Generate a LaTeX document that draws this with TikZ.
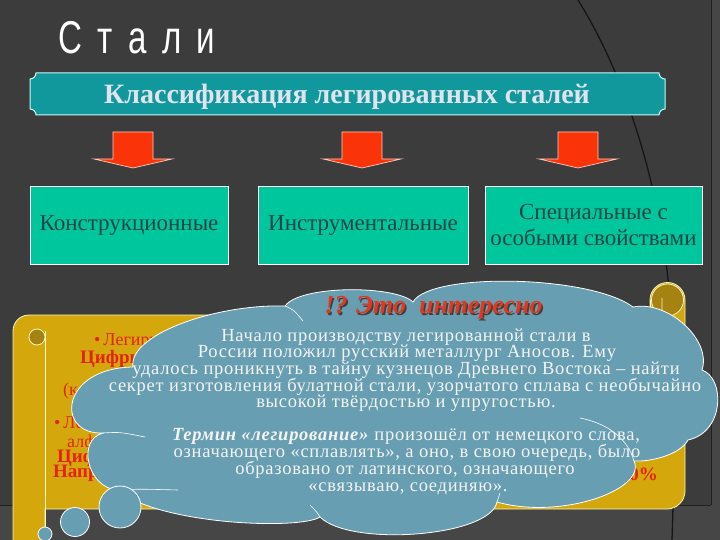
\documentclass[tikz,border=0pt]{standalone}
\usepackage{fontspec}
\usepackage{graphicx}
\setmainfont{Liberation Serif}
\newfontfamily\titlefont{Liberation Sans}
\definecolor{bgcol}{RGB}{60,60,60}
\definecolor{bgband}{RGB}{70,70,70}
\definecolor{bgdark}{RGB}{32,32,32}
\definecolor{arcline}{RGB}{22,22,22}
\definecolor{bannerfill}{RGB}{16,152,156}
\definecolor{bannerline}{RGB}{200,250,250}
\definecolor{bannertext}{RGB}{225,228,238}
\definecolor{boxfill}{RGB}{0,198,158}
\definecolor{boxtext}{RGB}{30,70,68}
\definecolor{arrowred}{RGB}{250,52,8}
\definecolor{scrollgold}{RGB}{212,168,12}
\definecolor{scrolldark}{RGB}{165,130,18}
\definecolor{scrollline}{RGB}{250,246,190}
\definecolor{scrolltext}{RGB}{228,36,12}
\definecolor{cloudfill}{RGB}{104,158,178}
\definecolor{cloudtext}{RGB}{244,244,244}
\definecolor{headred}{RGB}{226,56,30}
\tikzset{
 arrowshape/.style={fill=arrowred, draw=white!75!arrowred, line width=0.7pt, line join=miter},
 catbox/.style={draw=white, line width=0.8pt, fill=boxfill, text=boxtext, font=\fontsize{23}{26}\selectfont, align=center, minimum height=78pt, inner sep=0pt},
 cloudshape/.style={fill=cloudfill, draw=white, line width=0.8pt},
 innerarc/.style={draw=white, line width=0.6pt},
 cloudtxt/.style={text=cloudtext, font=\fontsize{18.5}{18.5}\selectfont\addfontfeatures{LetterSpace=4}, anchor=base, inner sep=0pt},
 scrolltxt/.style={text=scrolltext, anchor=base west, inner sep=0pt, font=\fontsize{18}{18}\selectfont},
 scrollbold/.style={text=scrolltext, anchor=base west, inner sep=0pt, font=\fontsize{19}{19}\selectfont\bfseries},
 scrollshape/.style={fill=scrollgold, draw=scrollline, line width=0.8pt},
 headtxt/.style={anchor=base, inner sep=0pt, font=\fontsize{26}{26}\selectfont\bfseries\itshape},
}
\begin{document}
\begin{tikzpicture}[x=1pt,y=-1pt]
\useasboundingbox (0,0) rectangle (720,540);
\begin{scope}
\clip (0,0) rectangle (720,540);
% background
\fill[bgcol] (0,0) rectangle (720,540);
\fill[bgband] (0,505) rectangle (720,540);
\draw[bgdark, line width=1pt] (0,505) -- (720,505);
\fill[bgband] (711,0) rectangle (720,540);
\draw[bgdark, line width=0.8pt] (711,0) -- (711,505);
\draw[arcline, line width=1.3pt] (578,0) .. controls (628,80) and (666,200) .. (672,330) .. controls (675,420) and (674,480) .. (672,540);
% title
\node[anchor=base west, text=white, font=\titlefont\fontsize{46}{46}\selectfont, inner sep=0pt] (title) at (58,54)
  {\scalebox{0.72}[1]{С\hspace{21.5pt}т\hspace{21.5pt}а\hspace{21.5pt}л\hspace{21.5pt}и}};
% banner
\path[fill=bannerfill, draw=bannerline, line width=1pt]
  (36,73) -- (659,73) arc[start angle=180,end angle=90,radius=6]
  -- (665,109) arc[start angle=270,end angle=180,radius=6]
  -- (36,115) arc[start angle=360,end angle=270,radius=6]
  -- (30,79) arc[start angle=90,end angle=0,radius=6] -- cycle;
\node[text=bannertext, font=\fontsize{28}{28}\selectfont\bfseries, anchor=base, inner sep=0pt] (banner) at (347,104) {Классификация легированных сталей};
% arrows
\foreach \c in {133,362,578} {
  \path[arrowshape] (\c-20,132) -- (\c+20,132) -- (\c+20,159) -- (\c+39,159) -- (\c,168) -- (\c-39,159) -- (\c-20,159) -- cycle;
}
% boxes
\node[catbox, minimum width=198pt] (b1) at (129,225) {Конструкционные};
\node[catbox, minimum width=210pt] (b2) at (363,225) {Инструментальные};
\node[catbox, minimum width=217pt] (b3) at (593.5,225) {Специальные с\\особыми свойствами};
% scroll
\path[scrollshape] (29,315) -- (650,315) -- (650,300) arc[start angle=180,end angle=360,radius=17.5]
  -- (685,491) arc[start angle=0,end angle=90,radius=18] -- (45,509) -- (45,560) -- (13,560)
  -- (13,331) arc[start angle=180,end angle=270,radius=16] -- cycle;
\draw[scrollline, line width=0.8pt] (45,331) -- (45,560);
\draw[scrollline, fill=scrolldark, line width=0.8pt] (37,337) circle[radius=8];
\draw[scrollline, fill=scrolldark, line width=0.8pt] (667.5,300) circle[radius=16];
\draw[scrollline, line width=0.8pt] (662,298) -- (662,311) arc[start angle=0,end angle=180,radius=4];
\draw[scrollline, line width=0.8pt] (650,300) -- (650,316);
% scroll text (mostly hidden by the cloud)
\node[scrolltxt] (s1) at (94,345) {•\,Легирующие};
\node[scrollbold] (s2) at (80,363) {Цифры};
\node[scrolltxt] (s3) at (63,395) {(к};
\node[scrolltxt] (s4) at (54,428) {•\,Легир};
\node[scrolltxt] (s5) at (67,447) {алфа};
\node[scrollbold] (s6) at (57,462) {Циф};
\node[scrollbold] (s7) at (53,477) {Напри};
\node[scrollbold, anchor=base east] (s8) at (658,480) {10\%};
% cloud
\path[cloudshape] (133,367)
  .. controls (128,335) and (215,304) .. (285,306)
  .. controls (300,285) and (395,285) .. (413,302)
  .. controls (430,272) and (590,275) .. (633,307)
  .. controls (668,300) and (712,340) .. (702,370)
  .. controls (725,378) and (725,432) .. (688,440)
  .. controls (680,455) and (650,462) .. (634,461)
  .. controls (647,490) and (560,520) .. (497,502)
  .. controls (490,537) and (350,547) .. (320,517)
  .. controls (300,530) and (160,525) .. (117,490)
  .. controls (88,488) and (76,440) .. (103,433)
  .. controls (55,435) and (60,368) .. (133,367) -- cycle;
\path[innerarc] (285,306) .. controls (294,310) .. (303,321);
\path[innerarc] (103,433) .. controls (120,432) .. (145,437);
\path[innerarc] (117,490) .. controls (140,489) .. (178,490);
\path[innerarc] (320,517) .. controls (316,511) .. (310,505);
\path[innerarc] (497,502) -- (500,493);
\path[innerarc] (580,418) .. controls (610,424) and (628,440) .. (634,461);
\draw[cloudshape] (120,507) circle[radius=21];
\draw[cloudshape] (75,522) circle[radius=14.5];
\draw[cloudshape] (45,534) circle[radius=7];
% cloud text
\node[cloudtxt] (c1) at (406,341) {Начало производству легированной стали в};
\node[cloudtxt] (c2) at (407,357.5) {России положил русский металлург Аносов. Ему};
\node[cloudtxt] (c3) at (406,374) {удалось проникнуть в тайну кузнецов Древнего Востока – найти};
\node[cloudtxt] (c4) at (405,391) {секрет изготовления булатной стали, узорчатого сплава с необычайно};
\node[cloudtxt] (c5) at (406,407) {высокой твёрдостью и упругостью.};
\node[cloudtxt] (c6) at (406,440) {\textbf{\textit{Термин «легирование»}} произошёл от немецкого слова,};
\node[cloudtxt] (c7) at (407,457.5) {означающего «сплавлять», а оно, в свою очередь, было};
\node[cloudtxt] (c8) at (405,474.5) {образовано от латинского, означающего};
\node[cloudtxt] (c9) at (408,491) {«связываю, соединяю».};
% heading
\node[headtxt, text=black!75] (headshadow) at (435,315) {!? Это\ \ интересно};
\node[headtxt, text=headred] (head) at (433.5,313.5) {!? Это\ \ интересно};
\end{scope}
\end{tikzpicture}
\end{document}
